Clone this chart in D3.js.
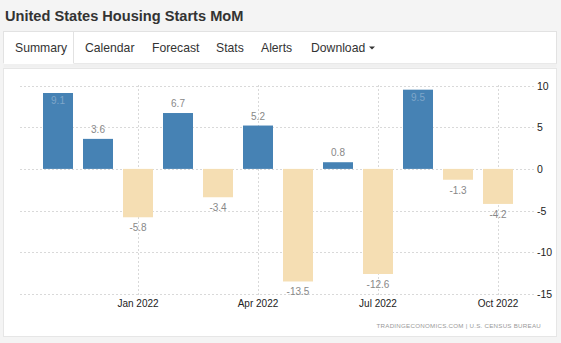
<!DOCTYPE html>
<html>
<head>
<meta charset="utf-8">
<script src="https://cdn.jsdelivr.net/npm/d3@7"></script>
<style>
html,body{margin:0;padding:0;background:#f4f4f4;}
svg{display:block;}
</style>
</head>
<body>
<script>
const categories = ["Nov 2021","Dec 2021","Jan 2022","Feb 2022","Mar 2022","Apr 2022","May 2022","Jun 2022","Jul 2022","Aug 2022","Sep 2022","Oct 2022"];
const values = [9.1, 3.6, -5.8, 6.7, -3.4, 5.2, -13.5, 0.8, -12.6, 9.5, -1.3, -4.2];
const xTickLabels = ["Jan 2022","Apr 2022","Jul 2022","Oct 2022"];
const yTicks = [10, 5, 0, -5, -10, -15];
const tabs = ["Summary","Calendar","Forecast","Stats","Alerts","Download"];
const tabX = [15, 85, 152, 216, 261, 311];

const W = 561, H = 343;
const svg = d3.select("body").append("svg").attr("width", W).attr("height", H);

svg.append("rect").attr("width", W).attr("height", H).attr("fill", "#f4f4f4");

// title
svg.append("text").attr("x", 5).attr("y", 21)
  .attr("font-family", "Liberation Sans, Arial, sans-serif")
  .attr("font-size", 14.6).attr("font-weight", "bold").attr("fill", "#333")
  .text("United States Housing Starts MoM");

// tab bar
svg.append("rect").attr("x", 3.5).attr("y", 31.5).attr("width", 553).attr("height", 32)
  .attr("fill", "#fff").attr("stroke", "#e2e2e2");
svg.append("rect").attr("x", 3.5).attr("y", 63.5).attr("width", 553).attr("height", 4)
  .attr("fill", "#f0f0f0").attr("stroke", "none");
svg.append("line").attr("x1", 73.5).attr("x2", 73.5).attr("y1", 31.5).attr("y2", 63.5).attr("stroke", "#e2e2e2");
svg.append("line").attr("x1", 3.5).attr("x2", 73.5).attr("y1", 63.5).attr("y2", 63.5).attr("stroke", "#fff");

const tabG = svg.append("g").attr("font-family", "Liberation Sans, Arial, sans-serif").attr("font-size", 12.2).attr("fill", "#333");
tabs.forEach((t, i) => {
  tabG.append("text").attr("x", tabX[i]).attr("y", 52).text(t);
});
tabG.append("path").attr("d", "M369,46.5 L375,46.5 L372,49.5 Z").attr("fill", "#333");

// chart panel
svg.append("rect").attr("x", 3.5).attr("y", 68.5).attr("width", 553).attr("height", 268)
  .attr("fill", "#fff").attr("stroke", "#e6e6e6");

const y = d3.scaleLinear().domain([-15, 10]).range([294, 85.5]);
const x = d3.scaleBand().domain(categories).range([38, 518]).paddingInner(0.25).paddingOuter(0.125);

const grid = svg.append("g");
grid.selectAll("line.h").data(yTicks).join("line")
  .attr("x1", 20).attr("x2", 535)
  .attr("y1", d => Math.round(y(d)) + 0.5).attr("y2", d => Math.round(y(d)) + 0.5)
  .attr("stroke", "#d9d9d9").attr("stroke-dasharray", "2,2");
grid.selectAll("line.v").data(xTickLabels).join("line")
  .attr("x1", d => Math.round(x(d) + x.bandwidth() / 2) + 0.5)
  .attr("x2", d => Math.round(x(d) + x.bandwidth() / 2) + 0.5)
  .attr("y1", 85).attr("y2", 297)
  .attr("stroke", "#d9d9d9").attr("stroke-dasharray", "2,2");

// bars
svg.append("g").selectAll("rect").data(values).join("rect")
  .attr("x", (d, i) => x(categories[i]))
  .attr("width", x.bandwidth())
  .attr("y", d => y(Math.max(0, d)))
  .attr("height", d => Math.abs(y(d) - y(0)))
  .attr("fill", d => d >= 0 ? "#4682b4" : "#f5deb3");

// value labels
svg.append("g").attr("font-family", "Liberation Sans, Arial, sans-serif").attr("font-size", 10)
  .attr("text-anchor", "middle")
  .selectAll("text").data(values).join("text")
  .attr("x", (d, i) => x(categories[i]) + x.bandwidth() / 2)
  .attr("y", d => {
    if (d >= 0) {
      const ty = y(d) - 6;
      return ty < 90 ? y(d) + 11 : ty;
    }
    return y(d) + 14;
  })
  .attr("fill", d => (d >= 0 && y(d) - 6 < 90) ? "#7fa6c9" : "#888")
  .text(d => d.toFixed(1));

// y axis labels
svg.append("g").attr("font-family", "Liberation Sans, Arial, sans-serif").attr("font-size", 10.5)
  .attr("fill", "#222")
  .selectAll("text").data(yTicks).join("text")
  .attr("x", 537).attr("y", d => y(d) + 4)
  .text(d => d);

// x axis labels
svg.append("g").attr("font-family", "Liberation Sans, Arial, sans-serif").attr("font-size", 10)
  .attr("fill", "#222").attr("text-anchor", "middle")
  .selectAll("text").data(xTickLabels).join("text")
  .attr("x", d => x(d) + x.bandwidth() / 2).attr("y", 306.5)
  .text(d => d);

// source
svg.append("text").attr("x", 541).attr("y", 327.5).attr("text-anchor", "end")
  .attr("font-family", "Liberation Sans, Arial, sans-serif").attr("font-size", 6.2).attr("fill", "#999")
  .attr("letter-spacing", 0.25)
  .text("TRADINGECONOMICS.COM  |  U.S. CENSUS BUREAU");
</script>
</body>
</html>
